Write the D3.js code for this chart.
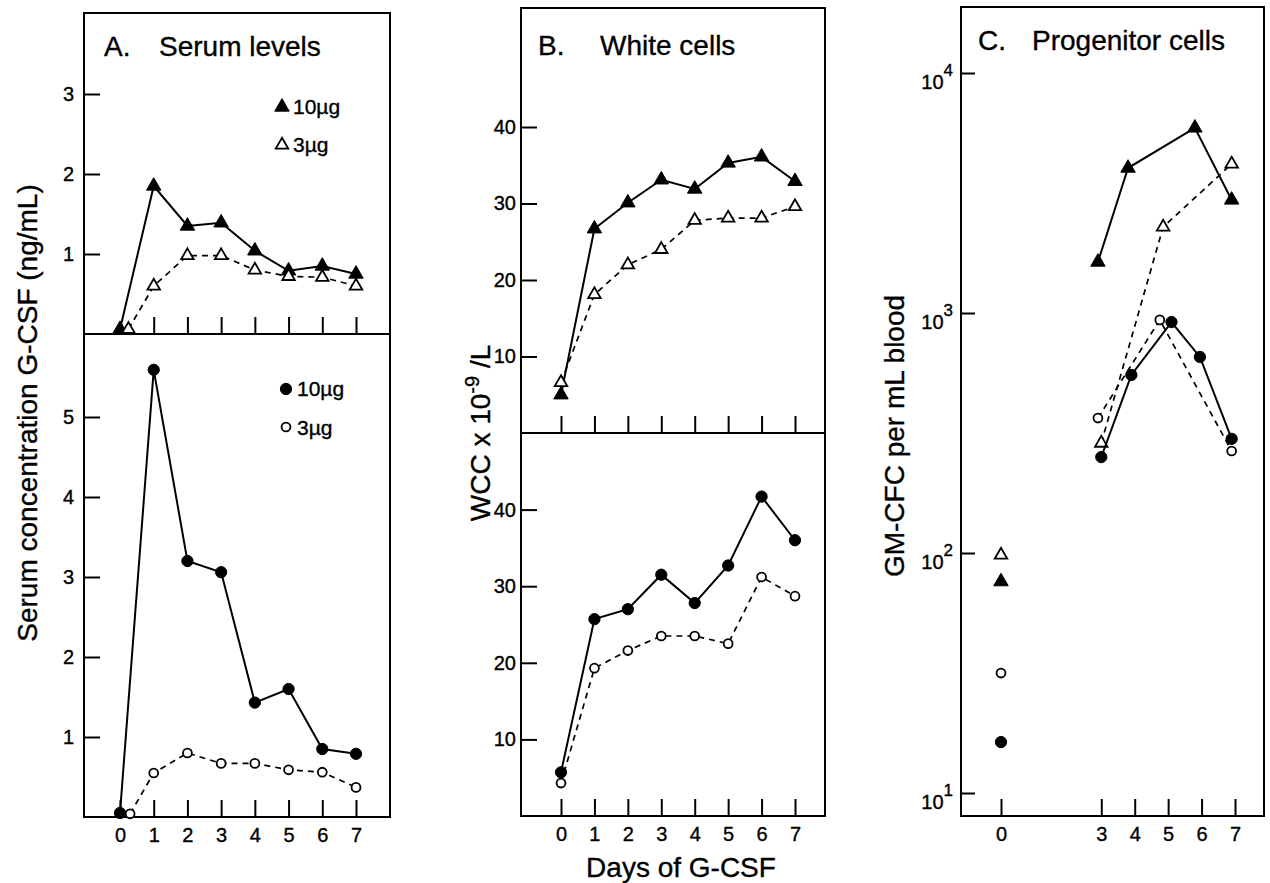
<!DOCTYPE html>
<html>
<head>
<meta charset="utf-8">
<script src="https://cdn.jsdelivr.net/npm/d3@7"></script>
<style>
  body { margin: 0; background: #fff; }
  text { font-family: "Liberation Sans", Arial, Helvetica, sans-serif; fill: #000; stroke: #000; stroke-width: 0.35px; }
</style>
</head>
<body>
<svg id="chart" width="1270" height="883"></svg>
<script>
// ---- data ----
const days = [0, 1, 2, 3, 4, 5, 6, 7];

// A. serum G-CSF (ng/mL)
const serumTri10 = [0.06, 1.85, 1.35, 1.39, 1.04, 0.79, 0.85, 0.75];
const serumTri3X = [0.25, 1, 2, 3, 4, 5, 6, 7];
const serumTri3 = [0.06, 0.60, 0.98, 0.98, 0.80, 0.72, 0.71, 0.60];
const serumDot10 = [0.05, 5.59, 3.20, 3.06, 1.43, 1.60, 0.85, 0.79];
const serumDot3X = [0.3, 1, 2, 3, 4, 5, 6, 7];
const serumDot3 = [0.04, 0.55, 0.80, 0.67, 0.67, 0.59, 0.56, 0.37];

// B. white cells (x10^9/L)
const wccTri10 = [5.0, 26.7, 30.1, 33.1, 31.9, 35.3, 36.1, 32.9];
const wccTri3 = [6.6, 18.1, 22.0, 24.0, 27.8, 28.1, 28.1, 29.6];
const wccDot10 = [5.7, 25.7, 27.0, 31.5, 27.8, 32.7, 41.7, 36.0];
const wccDot3 = [4.3, 19.3, 21.6, 23.5, 23.5, 22.5, 31.2, 28.7];

// C. GM-CFC per mL blood (day 0 baselines plotted separately)
const gmBaseline = { tri10: 76, tri3: 98, dot10: 16.3, dot3: 31.6 };
const gmTri10X = [2.9, 3.8, 5.8, 6.9];
const gmTri10 = [1631, 4018, 5906, 2958];
const gmTri3X = [3.0, 4.85, 6.9];
const gmTri3 = [287, 2282, 4178];
const gmDot10X = [3.0, 3.9, 5.1, 5.95, 6.9];
const gmDot10 = [251, 552, 917, 656, 299];
const gmDot3X = [2.9, 4.75, 6.9];
const gmDot3 = [365, 936, 266];

// tick values
const serumTopTicks = [1, 2, 3];
const serumBotTicks = [1, 2, 3, 4, 5];
const wccTicks = [10, 20, 30, 40];
const gmTicks = [10, 100, 1000, 10000];
const gmDayTicks = [0, 3, 4, 5, 6, 7];

const svg = d3.select("#chart");

const TRI = 90, TRI_OPEN = 68, DOT = 100, DOT_OPEN = 62;

function pts(xs, ys) { return xs.map((x, i) => [x, ys[i]]); }

function series(g, x, y, data, kind, filled, dashed, connect = true) {
  if (connect) {
    g.append("path")
      .datum(data)
      .attr("fill", "none")
      .attr("stroke", "#000")
      .attr("stroke-width", dashed ? 1.7 : 2)
      .attr("stroke-dasharray", dashed ? "6,5" : null)
      .attr("d", d3.line().x(d => x(d[0])).y(d => y(d[1])));
  }
  const sym = kind === "tri" ? d3.symbolTriangle : d3.symbolCircle;
  const size = kind === "tri" ? (filled ? TRI : TRI_OPEN) : (filled ? DOT : DOT_OPEN);
  g.selectAll(null)
    .data(data)
    .join("path")
    .attr("transform", d => `translate(${x(d[0])},${y(d[1])})`)
    .attr("d", d3.symbol(sym, size))
    .attr("fill", filled ? "#000" : "#fff")
    .attr("stroke", "#000")
    .attr("stroke-width", filled ? 1 : 1.8);
}

function yAxis(g, x0, y, ticks, pad) {
  const ax = d3.axisLeft(y).tickValues(ticks).tickFormat(d3.format("d"))
    .tickSizeInner(-16).tickSizeOuter(0).tickPadding(pad);
  const a = g.append("g").attr("transform", `translate(${x0},0)`).call(ax);
  a.select(".domain").remove();
  a.selectAll("line").attr("stroke-width", 2);
  a.selectAll("text").attr("font-size", 20).attr("font-family", null);
  return a;
}

function xTicks(g, x, yPos, ticks, labels) {
  const ax = d3.axisBottom(x).tickValues(ticks).tickFormat(labels ? d3.format("d") : "")
    .tickSizeInner(-17).tickSizeOuter(0).tickPadding(11);
  const a = g.append("g").attr("transform", `translate(0,${yPos})`).call(ax);
  a.select(".domain").remove();
  a.selectAll("line").attr("stroke-width", 2);
  a.selectAll("text").attr("font-size", 20).attr("font-family", null);
}

function box(g, x0, x1, y0, y1) {
  g.append("rect").attr("x", x0).attr("y", y0).attr("width", x1 - x0).attr("height", y1 - y0)
    .attr("fill", "none").attr("stroke", "#000").attr("stroke-width", 2);
}

function title(g, x, y, letter, gap, label) {
  const t = g.append("text").attr("x", x).attr("y", y).attr("font-size", 28);
  t.append("tspan").text(letter);
  t.append("tspan").attr("x", x + gap).text(label);
}

// ---------- Panel A ----------
{
  const g = svg.append("g");
  const x0 = 84, x1 = 390, yTop = 13, yMid = 334, yBot = 817;
  const x = d3.scaleLinear().domain([0, 7]).range([120, 356]);
  const yT = d3.scaleLinear().domain([0, 4]).range([yMid, yMid - 320]);
  const yB = d3.scaleLinear().domain([0, 6]).range([yBot, yBot - 480]);

  box(g, x0, x1, yTop, yBot);
  g.append("line").attr("x1", x0).attr("x2", x1).attr("y1", yMid).attr("y2", yMid)
    .attr("stroke", "#000").attr("stroke-width", 2);

  yAxis(g, x0, yT, serumTopTicks, 10);
  yAxis(g, x0, yB, serumBotTicks, 10);
  xTicks(g, x, yMid, days.slice(1), false);
  xTicks(g, x, yBot, days, true);

  series(g, x, yT, pts(days, serumTri10), "tri", true, false);
  series(g, x, yT, pts(serumTri3X, serumTri3), "tri", false, true);
  series(g, x, yB, pts(days, serumDot10), "dot", true, false);
  series(g, x, yB, pts(serumDot3X, serumDot3), "dot", false, true);

  title(g, 104, 56, "A.", 55, "Serum levels");

  // legends
  const leg = [
    { cx: 282, cy: 107, sym: d3.symbolTriangle, filled: true, size: TRI, label: "10µg", ty: 114 },
    { cx: 282, cy: 145, sym: d3.symbolTriangle, filled: false, size: TRI_OPEN, label: "3µg", ty: 152 },
    { cx: 286, cy: 389, sym: d3.symbolCircle, filled: true, size: DOT, label: "10µg", ty: 396 },
    { cx: 286, cy: 427, sym: d3.symbolCircle, filled: false, size: DOT_OPEN, label: "3µg", ty: 435 }
  ];
  leg.forEach(l => {
    g.append("path").attr("transform", `translate(${l.cx},${l.cy})`)
      .attr("d", d3.symbol(l.sym, l.size))
      .attr("fill", l.filled ? "#000" : "#fff").attr("stroke", "#000")
      .attr("stroke-width", l.filled ? 1 : 1.8);
    g.append("text").attr("x", l.cx + 11).attr("y", l.ty).attr("font-size", 21).text(l.label);
  });

  g.append("text").attr("transform", "translate(37,413) rotate(-90)")
    .attr("text-anchor", "middle").attr("font-size", 28)
    .text("Serum concentration G-CSF (ng/mL)");
}

// ---------- Panel B ----------
{
  const g = svg.append("g");
  const x0 = 521, x1 = 825, yTop = 8, yMid = 433, yBot = 816;
  const x = d3.scaleLinear().domain([0, 7]).range([561, 795]);
  const yT = d3.scaleLinear().domain([0, 50]).range([yMid, yMid - 382.5]);
  const yB = d3.scaleLinear().domain([0, 50]).range([yBot, yMid]);

  box(g, x0, x1, yTop, yBot);
  g.append("line").attr("x1", x0).attr("x2", x1).attr("y1", yMid).attr("y2", yMid)
    .attr("stroke", "#000").attr("stroke-width", 2);

  yAxis(g, x0, yT, wccTicks, 5);
  yAxis(g, x0, yB, wccTicks, 5);
  xTicks(g, x, yMid, days, false);
  xTicks(g, x, yBot, days, true);

  series(g, x, yT, pts(days, wccTri10), "tri", true, false);
  series(g, x, yT, pts(days, wccTri3), "tri", false, true);
  series(g, x, yB, pts(days, wccDot10), "dot", true, false);
  series(g, x, yB, pts(days, wccDot3), "dot", false, true);

  title(g, 538, 55, "B.", 62, "White cells");

  const t = g.append("text").attr("transform", "translate(490,433) rotate(-90)")
    .attr("text-anchor", "middle").attr("font-size", 28);
  t.append("tspan").text("WCC x 10");
  t.append("tspan").attr("dy", -11).attr("font-size", 20).text("-9");
  t.append("tspan").attr("dy", 11).text(" /L");

  g.append("text").attr("x", 681).attr("y", 877).attr("text-anchor", "middle")
    .attr("font-size", 28).text("Days of G-CSF");
}

// ---------- Panel C ----------
{
  const g = svg.append("g");
  const x0 = 961, x1 = 1264, yTop = 7, yBot = 816;
  const x = d3.scaleLinear().domain([0, 7]).range([1001, 1235]);
  const y = d3.scaleLog().domain([10, 10000]).range([793, 73]);

  box(g, x0, x1, yTop, yBot);

  const a = yAxis(g, x0, y, gmTicks, 8);
  a.selectAll("line").attr("x2", 14);
  a.selectAll("text").attr("dy", "0.75em").each(function (d) {
    const t = d3.select(this).text(null);
    t.append("tspan").text("10");
    t.append("tspan").attr("dy", "-0.75em").attr("font-size", 17).text(Math.round(Math.log10(d)));
  });
  xTicks(g, x, yBot, gmDayTicks, true);

  series(g, x, y, pts(gmTri10X, gmTri10), "tri", true, false);
  series(g, x, y, pts(gmTri3X, gmTri3), "tri", false, true);
  series(g, x, y, pts(gmDot10X, gmDot10), "dot", true, false);
  series(g, x, y, pts(gmDot3X, gmDot3), "dot", false, true);

  series(g, x, y, [[0, gmBaseline.tri3]], "tri", false, true, false);
  series(g, x, y, [[0, gmBaseline.tri10]], "tri", true, false, false);
  series(g, x, y, [[0, gmBaseline.dot3]], "dot", false, true, false);
  series(g, x, y, [[0, gmBaseline.dot10]], "dot", true, false, false);

  title(g, 978, 50, "C.", 54, "Progenitor cells");

  g.append("text").attr("transform", "translate(904,436) rotate(-90)")
    .attr("text-anchor", "middle").attr("font-size", 28)
    .text("GM-CFC per mL blood");
}
</script>
</body>
</html>
